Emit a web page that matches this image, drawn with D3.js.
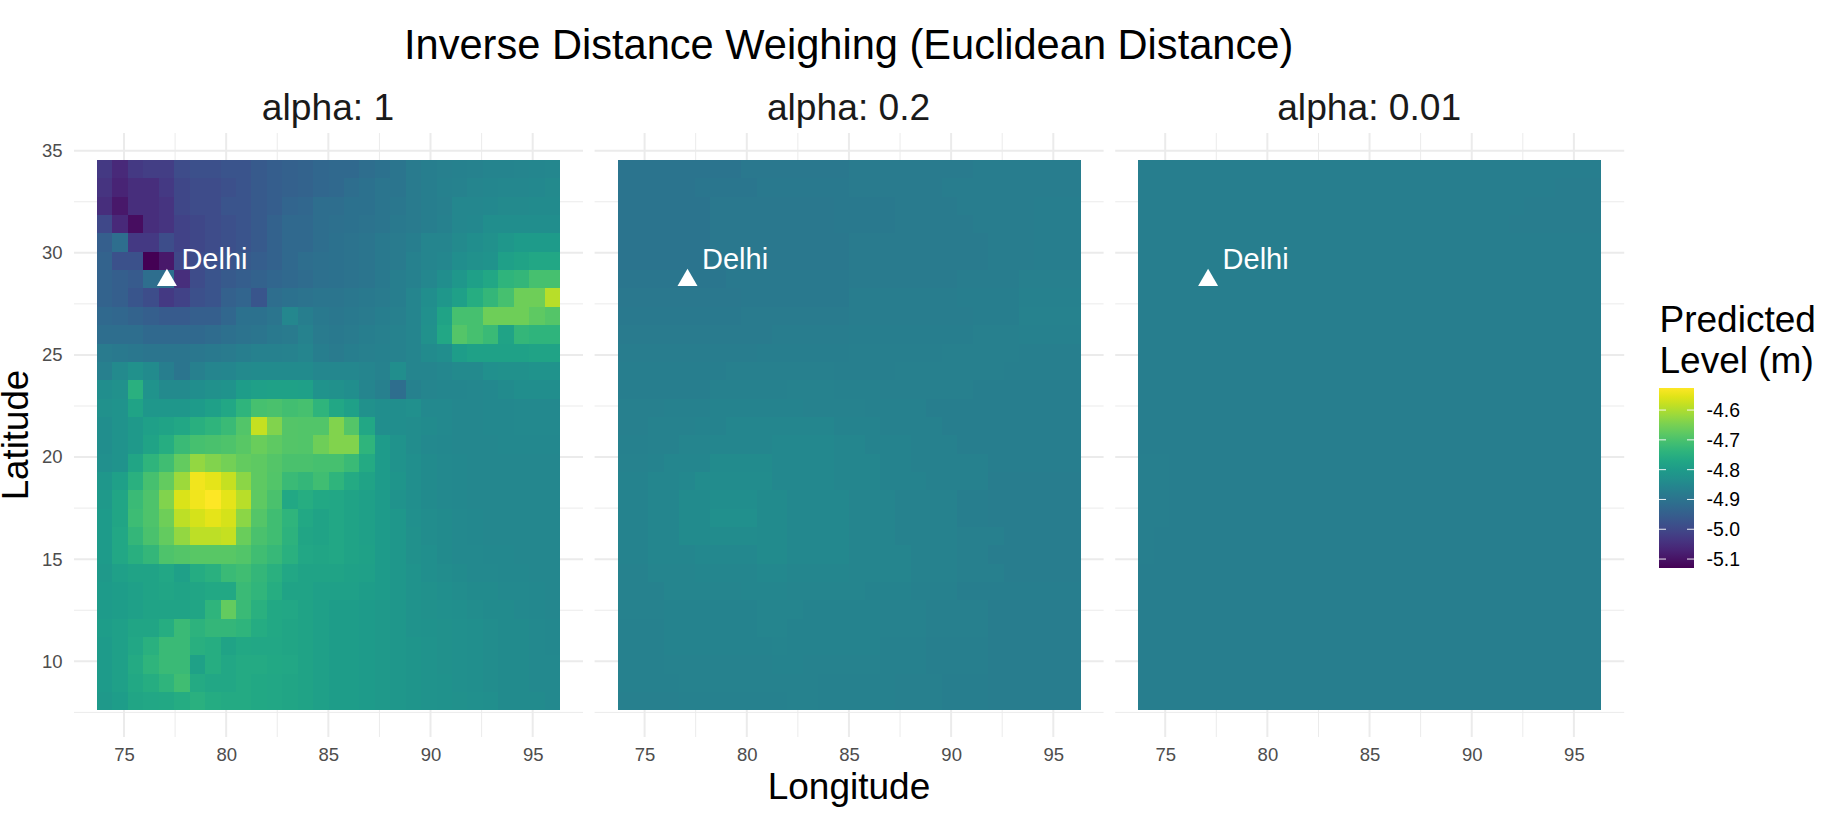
<!DOCTYPE html>
<html>
<head>
<meta charset="utf-8">
<script src="https://d3js.org/d3.v7.min.js"></script>
<style>
html,body{margin:0;padding:0;background:#fff}
svg{display:block;font-family:"Liberation Sans",Arial,sans-serif}
</style>
</head>
<body>
<div id="chart"></div>
<script>
const chartTitle = "Inverse Distance Weighing (Euclidean Distance)";
const panelLabels = ["alpha: 1", "alpha: 0.2", "alpha: 0.01"];
const xTicks = [75, 80, 85, 90, 95];
const xMinor = [77.5, 82.5, 87.5, 92.5];
const yTicks = [10, 15, 20, 25, 30, 35];
const yMinor = [7.5, 12.5, 17.5, 22.5, 27.5, 32.5];
const legendTicks = [-4.6, -4.7, -4.8, -4.9, -5.0, -5.1];
const cityName = "Delhi";
const cityLon = 77.1, cityLat = 28.66;
const lonEdges = [73.68, 96.34], latEdges = [34.54, 7.6];
const levelRange = [-5.13, -4.526];

// Panel alpha = 1: 30 rows (north to south) of 30 columns (west to east)
const levelsAlpha1 = [
[-5.03,-5.06,-5.03,-5.02,-5.02,-4.992,-4.982,-4.982,-4.972,-4.972,-4.962,-4.952,-4.945,-4.94,-4.93,-4.925,-4.925,-4.915,-4.905,-4.895,-4.88,-4.875,-4.87,-4.868,-4.862,-4.858,-4.858,-4.855,-4.852,-4.85],
[-5.04,-5.07,-5.05,-5.05,-5.03,-5.002,-4.992,-4.992,-4.982,-4.972,-4.962,-4.952,-4.945,-4.94,-4.93,-4.925,-4.915,-4.905,-4.895,-4.895,-4.88,-4.875,-4.868,-4.862,-4.855,-4.852,-4.85,-4.85,-4.847,-4.843],
[-5.05,-5.09,-5.05,-5.05,-5.04,-5.002,-4.992,-4.992,-4.972,-4.972,-4.962,-4.952,-4.935,-4.93,-4.915,-4.915,-4.905,-4.905,-4.895,-4.89,-4.88,-4.875,-4.87,-4.85,-4.85,-4.847,-4.843,-4.843,-4.84,-4.84],
[-5.00,-5.06,-5.11,-5.05,-5.04,-5.012,-5.002,-4.992,-4.982,-4.972,-4.962,-4.942,-4.925,-4.925,-4.915,-4.91,-4.905,-4.90,-4.895,-4.885,-4.88,-4.875,-4.868,-4.85,-4.847,-4.835,-4.835,-4.835,-4.835,-4.835],
[-4.95,-4.915,-5.03,-5.03,-4.99,-5.012,-5.002,-4.992,-4.982,-4.972,-4.962,-4.942,-4.925,-4.925,-4.915,-4.905,-4.90,-4.895,-4.885,-4.88,-4.875,-4.855,-4.855,-4.843,-4.835,-4.827,-4.81,-4.80,-4.80,-4.80],
[-4.94,-4.98,-4.98,-5.13,-5.09,-5.002,-4.992,-4.982,-4.972,-4.962,-4.952,-4.942,-4.925,-4.915,-4.91,-4.905,-4.90,-4.895,-4.885,-4.88,-4.868,-4.855,-4.85,-4.835,-4.827,-4.82,-4.79,-4.78,-4.77,-4.77],
[-4.94,-4.95,-4.96,-4.915,-4.915,-5.05,-4.992,-4.972,-4.962,-4.952,-4.942,-4.932,-4.925,-4.92,-4.91,-4.905,-4.90,-4.895,-4.885,-4.875,-4.868,-4.85,-4.835,-4.81,-4.79,-4.77,-4.738,-4.73,-4.705,-4.705],
[-4.94,-4.95,-4.97,-4.99,-5.03,-5.01,-4.982,-4.972,-4.945,-4.935,-4.97,-4.915,-4.905,-4.90,-4.895,-4.895,-4.89,-4.885,-4.88,-4.875,-4.855,-4.835,-4.81,-4.79,-4.755,-4.73,-4.705,-4.659,-4.659,-4.592],
[-4.925,-4.93,-4.94,-4.95,-4.96,-4.96,-4.95,-4.95,-4.93,-4.905,-4.905,-4.895,-4.85,-4.875,-4.885,-4.89,-4.885,-4.88,-4.875,-4.87,-4.855,-4.83,-4.78,-4.705,-4.705,-4.659,-4.659,-4.659,-4.675,-4.688],
[-4.915,-4.915,-4.915,-4.925,-4.925,-4.925,-4.925,-4.92,-4.91,-4.90,-4.895,-4.885,-4.88,-4.862,-4.88,-4.885,-4.88,-4.875,-4.87,-4.862,-4.855,-4.827,-4.77,-4.688,-4.705,-4.72,-4.78,-4.73,-4.738,-4.738],
[-4.88,-4.885,-4.89,-4.895,-4.895,-4.895,-4.89,-4.885,-4.88,-4.875,-4.868,-4.868,-4.862,-4.855,-4.875,-4.88,-4.875,-4.87,-4.868,-4.862,-4.855,-4.84,-4.835,-4.795,-4.785,-4.785,-4.785,-4.785,-4.78,-4.78],
[-4.87,-4.843,-4.827,-4.84,-4.875,-4.895,-4.87,-4.855,-4.852,-4.843,-4.84,-4.84,-4.84,-4.84,-4.85,-4.85,-4.85,-4.855,-4.862,-4.835,-4.855,-4.855,-4.85,-4.843,-4.843,-4.83,-4.827,-4.827,-4.82,-4.82],
[-4.835,-4.827,-4.747,-4.82,-4.843,-4.843,-4.835,-4.827,-4.82,-4.795,-4.79,-4.785,-4.785,-4.79,-4.82,-4.827,-4.835,-4.855,-4.87,-4.915,-4.868,-4.855,-4.852,-4.852,-4.85,-4.847,-4.84,-4.835,-4.835,-4.835],
[-4.827,-4.82,-4.78,-4.81,-4.81,-4.81,-4.80,-4.79,-4.77,-4.738,-4.705,-4.70,-4.71,-4.705,-4.738,-4.77,-4.79,-4.827,-4.835,-4.835,-4.83,-4.845,-4.845,-4.85,-4.85,-4.847,-4.847,-4.845,-4.845,-4.845],
[-4.835,-4.82,-4.805,-4.79,-4.78,-4.77,-4.75,-4.738,-4.72,-4.69,-4.58,-4.64,-4.688,-4.69,-4.69,-4.64,-4.688,-4.77,-4.835,-4.835,-4.836,-4.842,-4.845,-4.85,-4.85,-4.847,-4.847,-4.845,-4.845,-4.845],
[-4.835,-4.82,-4.805,-4.78,-4.755,-4.72,-4.705,-4.70,-4.695,-4.684,-4.665,-4.675,-4.688,-4.69,-4.659,-4.64,-4.64,-4.738,-4.80,-4.82,-4.836,-4.845,-4.847,-4.85,-4.85,-4.85,-4.847,-4.847,-4.847,-4.847],
[-4.83,-4.82,-4.775,-4.738,-4.712,-4.67,-4.625,-4.64,-4.655,-4.67,-4.675,-4.688,-4.70,-4.70,-4.705,-4.705,-4.72,-4.762,-4.80,-4.82,-4.832,-4.842,-4.845,-4.847,-4.85,-4.85,-4.85,-4.85,-4.85,-4.85],
[-4.81,-4.79,-4.747,-4.705,-4.67,-4.615,-4.54,-4.55,-4.58,-4.63,-4.675,-4.69,-4.72,-4.73,-4.712,-4.738,-4.762,-4.78,-4.80,-4.815,-4.832,-4.84,-4.845,-4.847,-4.85,-4.85,-4.85,-4.85,-4.85,-4.85],
[-4.805,-4.775,-4.72,-4.695,-4.64,-4.56,-4.54,-4.526,-4.55,-4.592,-4.675,-4.70,-4.768,-4.755,-4.768,-4.77,-4.78,-4.79,-4.80,-4.82,-4.832,-4.84,-4.845,-4.847,-4.85,-4.85,-4.85,-4.85,-4.85,-4.85],
[-4.80,-4.775,-4.715,-4.695,-4.659,-4.585,-4.565,-4.55,-4.565,-4.63,-4.688,-4.712,-4.738,-4.768,-4.78,-4.77,-4.78,-4.79,-4.80,-4.81,-4.83,-4.836,-4.842,-4.845,-4.847,-4.85,-4.85,-4.85,-4.85,-4.85],
[-4.80,-4.77,-4.73,-4.70,-4.67,-4.625,-4.585,-4.585,-4.58,-4.665,-4.70,-4.712,-4.743,-4.775,-4.78,-4.77,-4.78,-4.79,-4.80,-4.81,-4.827,-4.836,-4.842,-4.845,-4.847,-4.85,-4.85,-4.85,-4.85,-4.85],
[-4.80,-4.77,-4.75,-4.73,-4.695,-4.688,-4.684,-4.684,-4.684,-4.69,-4.712,-4.725,-4.747,-4.77,-4.775,-4.77,-4.78,-4.785,-4.80,-4.81,-4.827,-4.832,-4.84,-4.845,-4.845,-4.847,-4.847,-4.85,-4.85,-4.85],
[-4.805,-4.79,-4.78,-4.78,-4.77,-4.79,-4.758,-4.747,-4.72,-4.712,-4.73,-4.747,-4.77,-4.78,-4.78,-4.78,-4.785,-4.79,-4.80,-4.81,-4.82,-4.832,-4.836,-4.842,-4.845,-4.845,-4.847,-4.847,-4.85,-4.85],
[-4.80,-4.795,-4.79,-4.78,-4.775,-4.78,-4.775,-4.768,-4.768,-4.72,-4.735,-4.755,-4.78,-4.78,-4.79,-4.79,-4.79,-4.795,-4.80,-4.81,-4.82,-4.827,-4.832,-4.836,-4.84,-4.842,-4.845,-4.845,-4.847,-4.85],
[-4.80,-4.795,-4.79,-4.78,-4.78,-4.78,-4.775,-4.738,-4.67,-4.72,-4.747,-4.768,-4.77,-4.78,-4.79,-4.795,-4.795,-4.80,-4.805,-4.81,-4.82,-4.827,-4.83,-4.832,-4.836,-4.84,-4.842,-4.845,-4.847,-4.85],
[-4.795,-4.79,-4.775,-4.775,-4.755,-4.72,-4.743,-4.73,-4.73,-4.738,-4.758,-4.768,-4.775,-4.78,-4.79,-4.795,-4.795,-4.80,-4.805,-4.81,-4.82,-4.823,-4.827,-4.83,-4.832,-4.836,-4.84,-4.842,-4.845,-4.847],
[-4.80,-4.79,-4.77,-4.747,-4.72,-4.72,-4.75,-4.755,-4.78,-4.768,-4.77,-4.77,-4.775,-4.78,-4.79,-4.795,-4.795,-4.80,-4.805,-4.81,-4.815,-4.82,-4.827,-4.83,-4.832,-4.836,-4.84,-4.842,-4.845,-4.847],
[-4.80,-4.79,-4.762,-4.738,-4.72,-4.72,-4.785,-4.755,-4.77,-4.762,-4.762,-4.768,-4.77,-4.78,-4.79,-4.795,-4.795,-4.80,-4.805,-4.81,-4.815,-4.82,-4.827,-4.83,-4.832,-4.836,-4.84,-4.842,-4.845,-4.845],
[-4.80,-4.79,-4.768,-4.755,-4.738,-4.712,-4.762,-4.77,-4.77,-4.762,-4.768,-4.77,-4.775,-4.78,-4.79,-4.795,-4.795,-4.80,-4.805,-4.81,-4.815,-4.82,-4.823,-4.83,-4.832,-4.836,-4.84,-4.842,-4.845,-4.845],
[-4.805,-4.795,-4.775,-4.77,-4.768,-4.758,-4.747,-4.758,-4.762,-4.762,-4.768,-4.77,-4.775,-4.78,-4.79,-4.795,-4.795,-4.80,-4.805,-4.81,-4.815,-4.82,-4.823,-4.827,-4.83,-4.832,-4.84,-4.842,-4.842,-4.845]
];

// Panels alpha = 0.2 and 0.01 hold long flat stretches: each row is [level, cells] runs
const levelsAlpha02 = [
[[-4.898,8],[-4.887,7],[-4.88,8],[-4.876,7]],
[[-4.898,5],[-4.892,4],[-4.885,6],[-4.88,6],[-4.876,9]],
[[-4.898,6],[-4.887,8],[-4.885,4],[-4.88,4],[-4.876,5],[-4.873,3]],
[[-4.898,6],[-4.887,8],[-4.885,4],[-4.88,5],[-4.876,4],[-4.873,3]],
[[-4.898,6],[-4.887,9],[-4.88,9],[-4.876,3],[-4.873,3]],
[[-4.898,6],[-4.887,9],[-4.88,9],[-4.876,3],[-4.873,3]],
[[-4.892,7],[-4.885,8],[-4.88,7],[-4.876,4],[-4.87,4]],
[[-4.887,8],[-4.885,7],[-4.876,7],[-4.873,4],[-4.868,4]],
[[-4.885,8],[-4.88,7],[-4.876,8],[-4.873,3],[-4.864,4]],
[[-4.88,10],[-4.876,5],[-4.873,8],[-4.87,3],[-4.868,4]],
[[-4.876,9],[-4.873,6],[-4.872,6],[-4.87,5],[-4.872,4]],
[[-4.873,7],[-4.87,7],[-4.872,4],[-4.87,7],[-4.872,5]],
[[-4.873,6],[-4.868,5],[-4.864,3],[-4.868,3],[-4.87,6],[-4.873,7]],
[[-4.87,3],[-4.868,3],[-4.86,6],[-4.864,4],[-4.868,4],[-4.873,10]],
[[-4.87,2],[-4.864,3],[-4.86,2],[-4.852,7],[-4.86,3],[-4.868,4],[-4.873,9]],
[[-4.868,2],[-4.864,2],[-4.856,2],[-4.852,4],[-4.847,4],[-4.852,2],[-4.86,3],[-4.868,3],[-4.873,8]],
[[-4.864,2],[-4.86,1],[-4.852,3],[-4.842,4],[-4.847,4],[-4.852,3],[-4.86,2],[-4.868,5],[-4.873,6]],
[[-4.86,2],[-4.852,2],[-4.847,1],[-4.838,5],[-4.847,4],[-4.852,3],[-4.86,3],[-4.868,4],[-4.876,6]],
[[-4.86,2],[-4.852,2],[-4.842,2],[-4.835,3],[-4.842,2],[-4.847,4],[-4.856,3],[-4.864,4],[-4.873,2],[-4.876,6]],
[[-4.86,2],[-4.852,2],[-4.842,2],[-4.83,3],[-4.842,2],[-4.847,4],[-4.856,3],[-4.864,4],[-4.873,2],[-4.876,6]],
[[-4.86,2],[-4.852,2],[-4.842,2],[-4.838,3],[-4.842,2],[-4.847,4],[-4.856,3],[-4.864,4],[-4.87,3],[-4.876,5]],
[[-4.86,2],[-4.852,3],[-4.847,4],[-4.842,2],[-4.847,4],[-4.856,4],[-4.864,3],[-4.87,2],[-4.876,6]],
[[-4.864,2],[-4.856,3],[-4.852,4],[-4.847,2],[-4.852,4],[-4.856,4],[-4.864,3],[-4.87,3],[-4.876,5]],
[[-4.864,3],[-4.856,5],[-4.852,3],[-4.856,5],[-4.86,3],[-4.868,3],[-4.873,8]],
[[-4.864,3],[-4.86,6],[-4.856,3],[-4.86,5],[-4.864,3],[-4.87,4],[-4.876,6]],
[[-4.868,3],[-4.86,6],[-4.856,2],[-4.86,6],[-4.864,3],[-4.87,4],[-4.876,6]],
[[-4.868,3],[-4.86,7],[-4.858,1],[-4.86,6],[-4.868,3],[-4.872,4],[-4.876,6]],
[[-4.868,3],[-4.862,7],[-4.86,2],[-4.864,5],[-4.868,3],[-4.872,4],[-4.876,6]],
[[-4.868,4],[-4.864,7],[-4.863,2],[-4.867,5],[-4.87,3],[-4.873,3],[-4.876,6]],
[[-4.869,4],[-4.866,7],[-4.864,2],[-4.868,5],[-4.87,3],[-4.873,3],[-4.876,6]]
];

const levelsAlpha001 = [
[[-4.875,30]],
[[-4.875,27],[-4.877,3]],
[[-4.875,25],[-4.877,5]],
[[-4.875,24],[-4.876,6]],
[[-4.875,22],[-4.873,8]],
[[-4.875,22],[-4.873,8]],
[[-4.875,21],[-4.873,9]],
[[-4.875,21],[-4.873,9]],
[[-4.875,19],[-4.873,11]],
[[-4.875,18],[-4.873,12]],
[[-4.875,9],[-4.873,21]],
[[-4.875,1],[-4.873,29]],
[[-4.873,30]],[[-4.873,30]],[[-4.873,30]],[[-4.873,30]],
[[-4.872,2],[-4.873,28]],[[-4.872,2],[-4.873,28]],[[-4.872,2],[-4.873,28]],[[-4.872,2],[-4.873,28]],
[[-4.872,1],[-4.873,29]],[[-4.872,1],[-4.873,29]],
[[-4.873,30]],[[-4.873,30]],[[-4.873,30]],[[-4.873,30]],[[-4.873,30]],[[-4.873,30]],[[-4.873,30]],[[-4.873,30]]
];

const expandRuns = rows => rows.map(r => r.flatMap(([v, n]) => d3.range(n).map(() => v)));
const panelLevels = [levelsAlpha1, expandRuns(levelsAlpha02), expandRuns(levelsAlpha001)];

const W = 1838, H = 824;
const panelStep = 520.6, panelL = 74, panelR = 583, panelT = 133, panelB = 737;
const x = d3.scaleLinear().domain([75, 95]).range([124, 532.7]);
const y = d3.scaleLinear().domain([10, 35]).range([661.3, 150.7]);
const color = d3.scaleSequential(d3.interpolateViridis).domain(levelRange);

const svg = d3.select("#chart").append("svg").attr("width", W).attr("height", H).attr("viewBox", `0 0 ${W} ${H}`);
svg.append("rect").attr("width", W).attr("height", H).attr("fill", "#fff");

svg.append("text").attr("x", 848.6).attr("y", 58.5).attr("text-anchor", "middle")
  .attr("font-size", 41.6).attr("fill", "#000").text(chartTitle);

const nCols = levelsAlpha1[0].length, nRows = levelsAlpha1.length;
const lonAt = d3.scaleLinear().domain([0, nCols]).range(lonEdges);
const latAt = d3.scaleLinear().domain([0, nRows]).range(latEdges);

panelLabels.forEach((label, p) => {
  const g = svg.append("g").attr("transform", `translate(${p * panelStep},0)`);

  // grid
  const grid = g.append("g").attr("stroke", "#ebebeb").attr("fill", "none");
  [[yMinor, 1, true], [yTicks, 2, true], [xMinor, 1, false], [xTicks, 2, false]].forEach(([vals, sw, horizontal]) => {
    grid.append("g").selectAll("line").data(vals).join("line")
      .attr("x1", d => horizontal ? panelL : x(d)).attr("x2", d => horizontal ? panelR : x(d))
      .attr("y1", d => horizontal ? y(d) : panelT).attr("y2", d => horizontal ? y(d) : panelB)
      .attr("stroke-width", sw);
  });

  // cells
  const cells = panelLevels[p].flatMap((row, r) => row.map((v, c) => ({ r, c, v })));
  g.append("g").attr("shape-rendering", "crispEdges").selectAll("rect").data(cells).join("rect")
    .attr("x", d => x(lonAt(d.c))).attr("y", d => y(latAt(d.r)))
    .attr("width", d => x(lonAt(d.c + 1)) - x(lonAt(d.c)))
    .attr("height", d => y(latAt(d.r + 1)) - y(latAt(d.r)))
    .attr("fill", d => color(d.v));

  // city marker
  g.append("path").attr("d", d3.symbol(d3.symbolTriangle, 173)())
    .attr("transform", `translate(${x(cityLon)},${y(cityLat)})`).attr("fill", "#fff");
  g.append("text").attr("x", x(cityLon) + 14.5).attr("y", y(cityLat) - 11.5)
    .attr("font-size", 29).attr("fill", "#fff").text(cityName);

  // strip
  g.append("text").attr("x", (panelL + panelR) / 2 - 0.5).attr("y", 120).attr("text-anchor", "middle")
    .attr("font-size", 37.2).attr("fill", "#1a1a1a").text(label);

  // x axis
  const ax = g.append("g").attr("transform", `translate(0,${panelB})`)
    .call(d3.axisBottom(x).tickValues(xTicks).tickSize(0).tickPadding(11).tickFormat(d3.format("d")));
  ax.select(".domain").remove();
  ax.selectAll("text").attr("font-size", 18.5).attr("font-family", "Liberation Sans").attr("fill", "#4d4d4d");

  // y axis only on the first panel
  if (p === 0) {
    const ay = g.append("g").attr("transform", `translate(${panelL},0)`)
      .call(d3.axisLeft(y).tickValues(yTicks).tickSize(0).tickPadding(11.5).tickFormat(d3.format("d")));
    ay.select(".domain").remove();
    ay.selectAll("text").attr("font-size", 18.5).attr("font-family", "Liberation Sans").attr("fill", "#4d4d4d");
  }
});

svg.append("text").attr("x", 849).attr("y", 799).attr("text-anchor", "middle")
  .attr("font-size", 37).attr("fill", "#000").text("Longitude");
svg.append("text").attr("transform", "translate(27.5,435) rotate(-90)").attr("text-anchor", "middle")
  .attr("font-size", 36.7).attr("fill", "#000").text("Latitude");

// legend
const legendX = 1659, legendW = 35;
const legendY = d3.scaleLinear().domain(levelRange).range([568, 388]);
svg.append("text").attr("x", 1659.5).attr("y", 331.5).attr("font-size", 37).attr("fill", "#000").text("Predicted");
svg.append("text").attr("x", 1659.5).attr("y", 372.5).attr("font-size", 37).attr("fill", "#000").text("Level (m)");
const defs = svg.append("defs");
const grad = defs.append("linearGradient").attr("id", "viridisBar").attr("x1", 0).attr("x2", 0).attr("y1", 1).attr("y2", 0);
d3.range(0, 1.0001, 0.05).forEach(t => grad.append("stop").attr("offset", t).attr("stop-color", d3.interpolateViridis(t)));
svg.append("rect").attr("x", legendX).attr("y", legendY(levelRange[1])).attr("width", legendW)
  .attr("height", legendY(levelRange[0]) - legendY(levelRange[1])).attr("fill", "url(#viridisBar)");
const lt = svg.append("g").selectAll("g").data(legendTicks).join("g");
lt.append("line").attr("x1", legendX).attr("x2", legendX + 7).attr("y1", d => legendY(d)).attr("y2", d => legendY(d)).attr("stroke", "#fff").attr("stroke-width", 0.9);
lt.append("line").attr("x1", legendX + legendW - 7).attr("x2", legendX + legendW).attr("y1", d => legendY(d)).attr("y2", d => legendY(d)).attr("stroke", "#fff").attr("stroke-width", 0.9);
lt.append("text").attr("x", 1706.5).attr("y", d => legendY(d)).attr("dy", "0.36em").attr("font-size", 19.4).attr("fill", "#000")
  .text(d => d.toFixed(1));
</script>
</body>
</html>
